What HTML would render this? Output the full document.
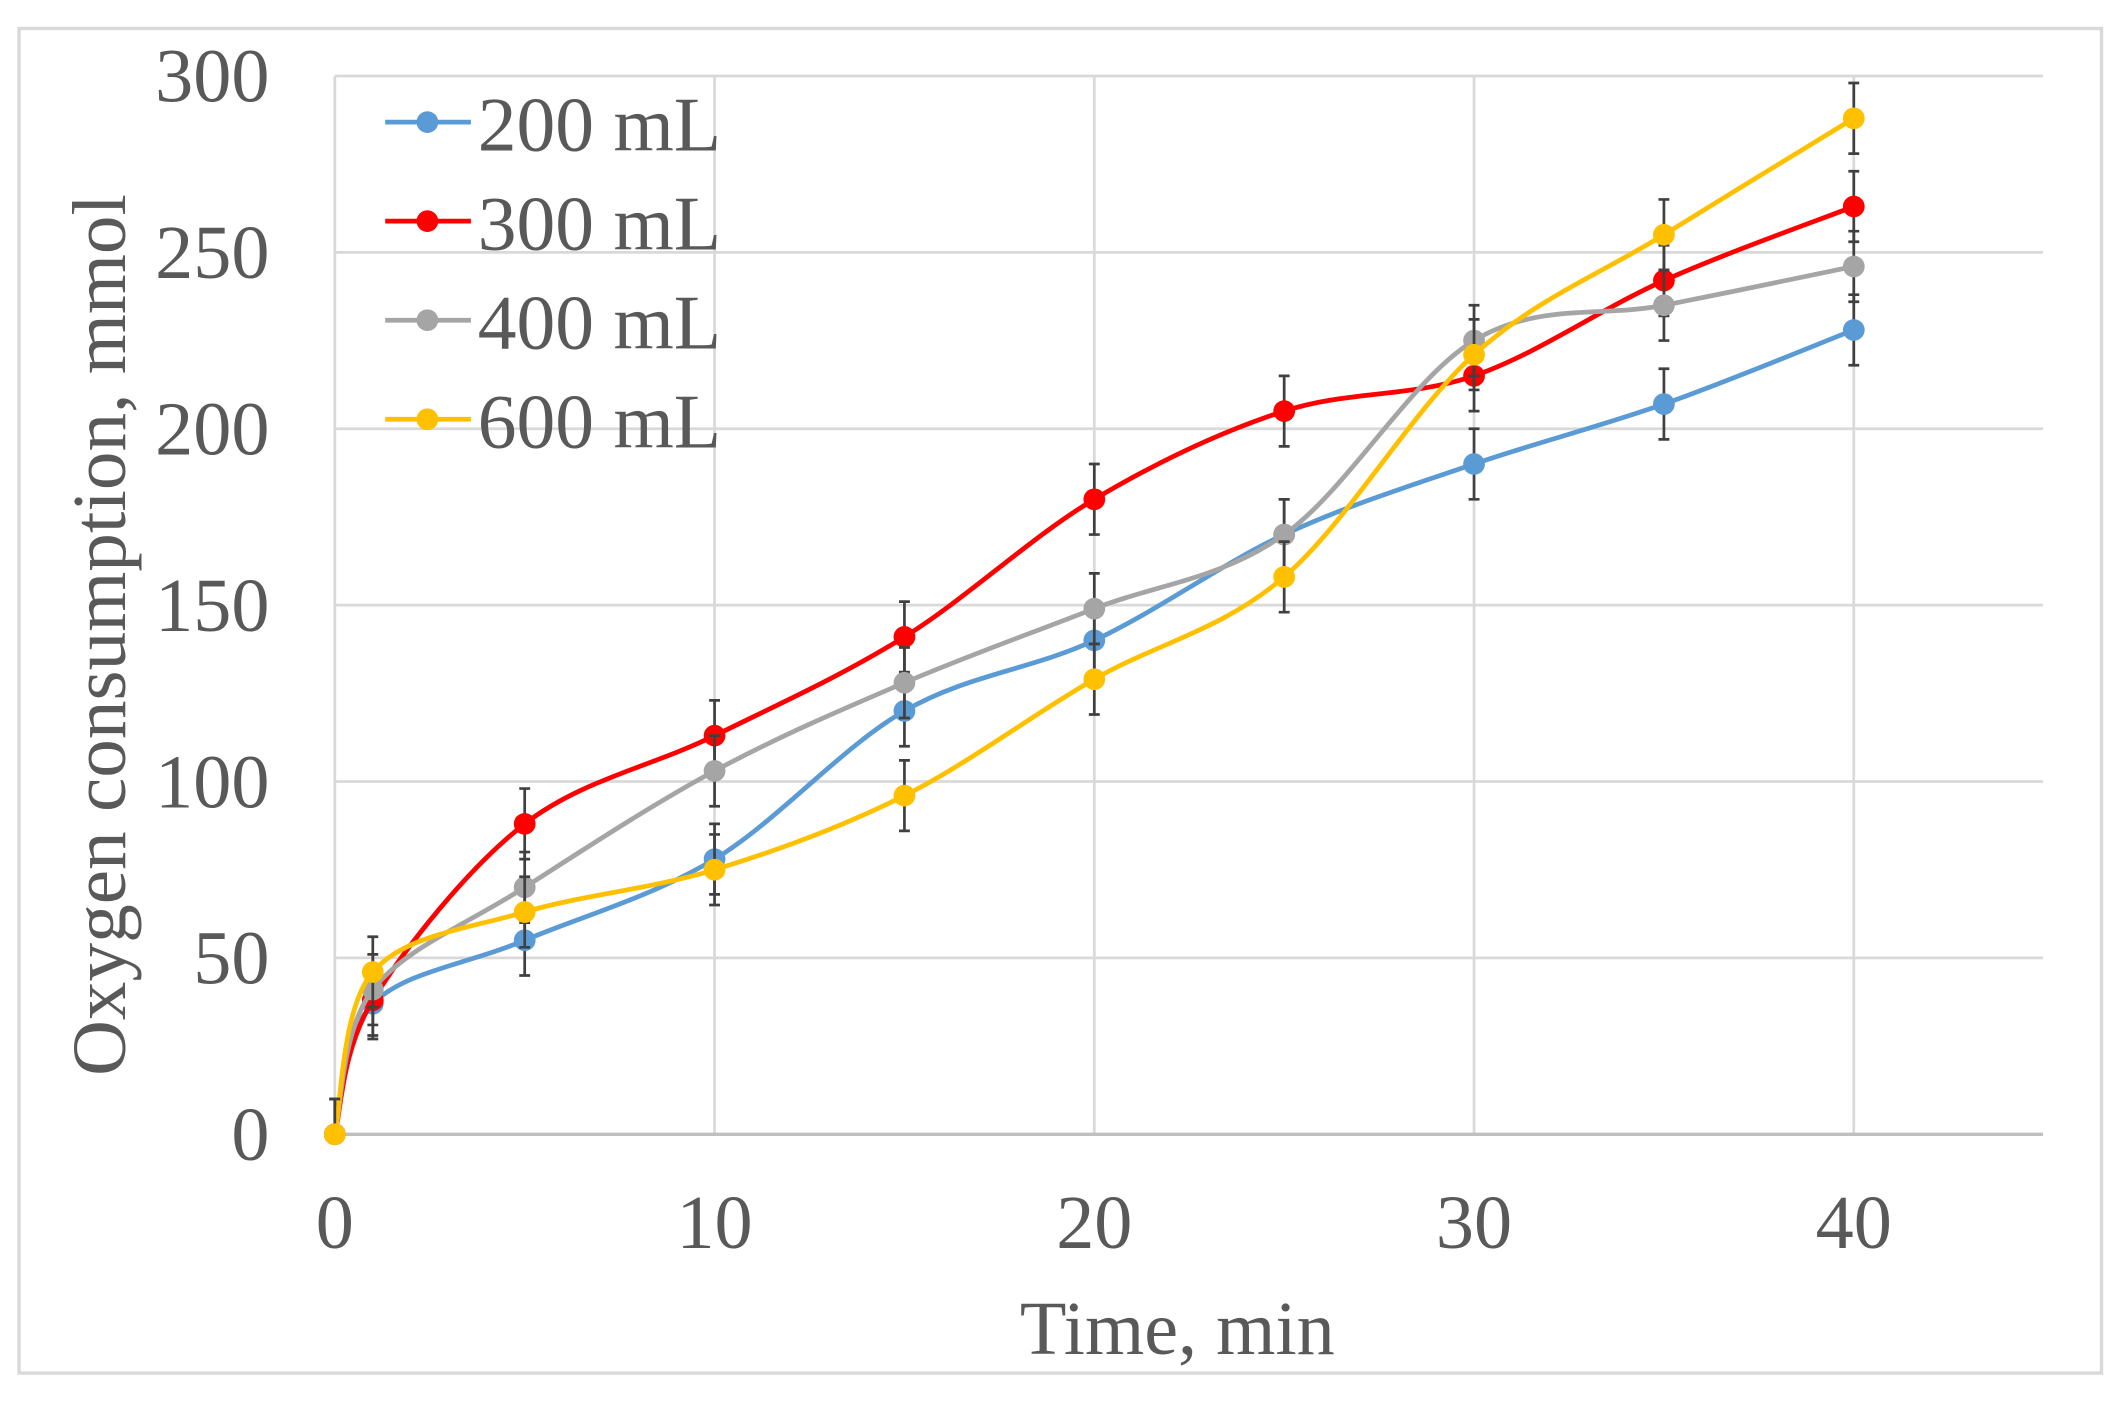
<!DOCTYPE html>
<html><head><meta charset="utf-8"><style>
html,body{margin:0;padding:0;background:#fff;}
svg{display:block;}
text{font-family:"Liberation Serif",serif;fill:#595959;}
</style></head><body>
<svg id="s" width="2126" height="1407" viewBox="0 0 1562 1037" preserveAspectRatio="none" xmlns="http://www.w3.org/2000/svg">
<rect x="14" y="21" width="1530" height="991" fill="#fff" stroke="#d9d9d9" stroke-width="2.5"/>
<g id="grid" stroke="#d9d9d9" stroke-width="2"></g>
<line x1="246" y1="836" x2="1501" y2="836" stroke="#bfbfbf" stroke-width="2.5"/>
<g id="ticks" font-size="56"></g>
<text x="865" y="998" font-size="56" text-anchor="middle">Time, min</text>
<text transform="translate(92,468) rotate(-90)" font-size="56" text-anchor="middle" textLength="650" lengthAdjust="spacingAndGlyphs">Oxygen consumption, mmol</text>
<g id="series"></g>
<g id="legend" font-size="57"></g>
</svg>
<script>
var X0=246,XS=(1362-246)/40,Y0=836,YS=(836-56)/300;
function px(x){return X0+x*XS;} function py(y){return Y0-y*YS;}
var g=document.getElementById('grid'),t=document.getElementById('ticks'),NS='http://www.w3.org/2000/svg';
function el(p,n,a,txt){var e=document.createElementNS(NS,n);for(var k in a)e.setAttribute(k,a[k]);if(txt)e.textContent=txt;p.appendChild(e);return e;}
for(var v=50;v<=300;v+=50)el(g,'line',{x1:246,x2:1501,y1:py(v),y2:py(v)});
el(g,'line',{x1:246,x2:246,y1:56,y2:836});
for(var v=10;v<=40;v+=10)el(g,'line',{x1:px(v),x2:px(v),y1:56,y2:836});
for(var v=0;v<=300;v+=50)el(t,'text',{x:198,y:py(v)+19,'text-anchor':'end'},String(v));
for(var v=0;v<=40;v+=10)el(t,'text',{x:px(v),y:920,'text-anchor':'middle'},String(v));
var xs=[0,1,5,10,15,20,25,30,35,40];
var S=[
 ['#5b9bd5',[0,37,55,78,120,140,170,190,207,228],'200 mL'],
 ['#ff0000',[0,38,88,113,141,180,205,215,242,263],'300 mL'],
 ['#a5a5a5',[0,41,70,103,128,149,170,225,235,246],'400 mL'],
 ['#ffc000',[0,46,63,75,96,129,158,221,255,288],'600 mL']];
var sg=document.getElementById('series'),lg=document.getElementById('legend');
S.forEach(function(s,i){
 var P=xs.map(function(x,j){return [px(x),py(s[1][j])];});
 var d='M'+P[0][0]+','+P[0][1];
 for(var k=0;k<P.length-1;k++){var p0=P[k-1]||P[k],p1=P[k],p2=P[k+1],p3=P[k+2]||p2,tt=6;
  d+=' C'+(p1[0]+(p2[0]-p0[0])/tt)+','+(p1[1]+(p2[1]-p0[1])/tt)+' '+(p2[0]-(p3[0]-p1[0])/tt)+','+(p2[1]-(p3[1]-p1[1])/tt)+' '+p2[0]+','+p2[1];}
 el(sg,'path',{d:d,fill:'none',stroke:s[0],'stroke-width':3.5});
 P.forEach(function(p){var e=10*YS;var lo=Math.min(p[1]+e,836);
  el(sg,'path',{d:'M'+p[0]+','+(p[1]-e)+'V'+lo+'M'+(p[0]-4)+','+(p[1]-e)+'h8'+(lo<836?'M'+(p[0]-4)+','+lo+'h8':''),stroke:'#404040','stroke-width':2,fill:'none'});});
 P.forEach(function(p){el(sg,'circle',{cx:p[0],cy:p[1],r:8,fill:s[0]});});
 var ly=90+i*73;
 el(lg,'line',{x1:283,x2:346,y1:ly,y2:ly,stroke:s[0],'stroke-width':3.5});
 el(lg,'circle',{cx:314,cy:ly,r:8,fill:s[0]});
 el(lg,'text',{x:351,y:ly+21},s[2]);
});
</script>
</body></html>
